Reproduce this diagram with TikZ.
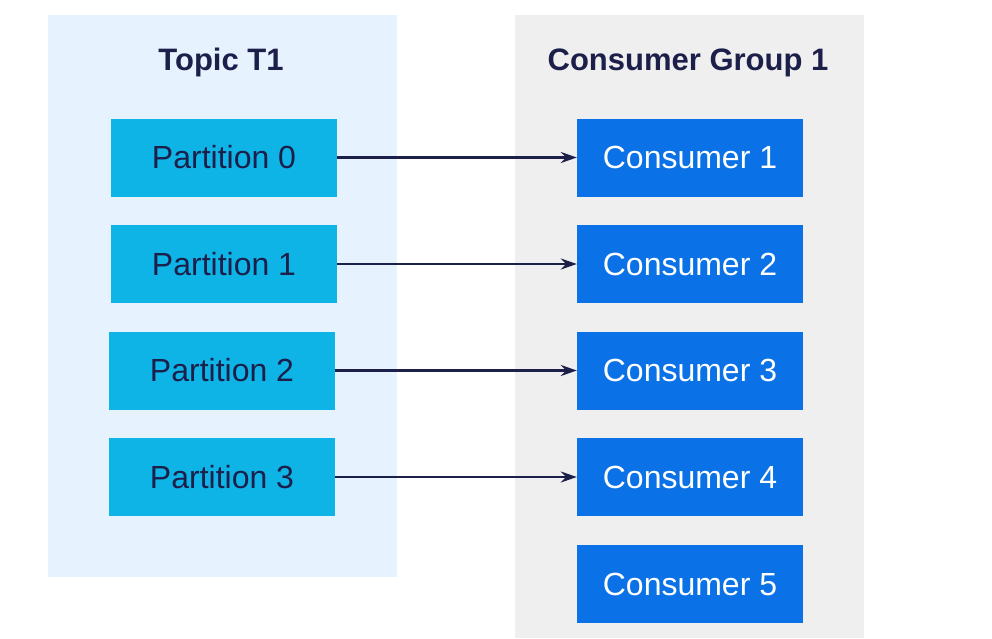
\documentclass[tikz,border=0pt]{standalone}
\usepackage{fontspec}
\setmainfont{Liberation Sans}
\definecolor{topicbg}{RGB}{230, 242, 253}
\definecolor{groupbg}{RGB}{239, 239, 239}
\definecolor{partcyan}{RGB}{14, 180, 230}
\definecolor{consblue}{RGB}{10, 114, 230}
\definecolor{navy}{RGB}{28, 31, 74}
\usetikzlibrary{arrows.meta, positioning}

\begin{document}
\begin{tikzpicture}[x=1pt, y=-1pt,
  panel/.style={inner sep=0pt, minimum width=349pt},
  pbox/.style={fill=partcyan, inner sep=0pt, minimum width=226pt, minimum height=78pt, text=navy, font=\fontsize{32}{38}\selectfont},
  cbox/.style={fill=consblue, inner sep=0pt, minimum width=226pt, minimum height=78pt, text=white, font=\fontsize{32}{38}\selectfont},
  heading/.style={anchor=base, text=navy, font=\bfseries\fontsize{31}{37}\selectfont},
  link/.style={-{Stealth[length=16pt, width=11pt]}, line width=2.5pt, navy}
]
  \useasboundingbox (0,0) rectangle (992,638);
  % panels
  \node[panel, fill=topicbg, minimum height=562pt] (topic) at (222,296) {};
  \node[panel, fill=groupbg, minimum height=623pt] (group) at (689.5,326.5) {};
  \node[heading] (ttitle) at (221,70) {Topic T1};
  \node[heading] (gtitle) at (688,70) {Consumer Group 1};
  % partitions
  \node[pbox] (p0) at (224,157.5) {Partition 0};
  \node[pbox] (p1) at (224,264) {Partition 1};
  \node[pbox] (p2) at (222,370.5) {Partition 2};
  \node[pbox] (p3) at (222,477) {Partition 3};
  % consumers
  \node[cbox] (c1) at (690,157.5) {Consumer 1};
  \node[cbox] (c2) at (690,264) {Consumer 2};
  \node[cbox] (c3) at (690,370.5) {Consumer 3};
  \node[cbox] (c4) at (690,477) {Consumer 4};
  \node[cbox] (c5) at (690,584) {Consumer 5};
  % assignments
  \draw[link] (p0) -- (c1);
  \draw[link] (p1) -- (c2);
  \draw[link] (p2) -- (c3);
  \draw[link] (p3) -- (c4);
\end{tikzpicture}
\end{document}
